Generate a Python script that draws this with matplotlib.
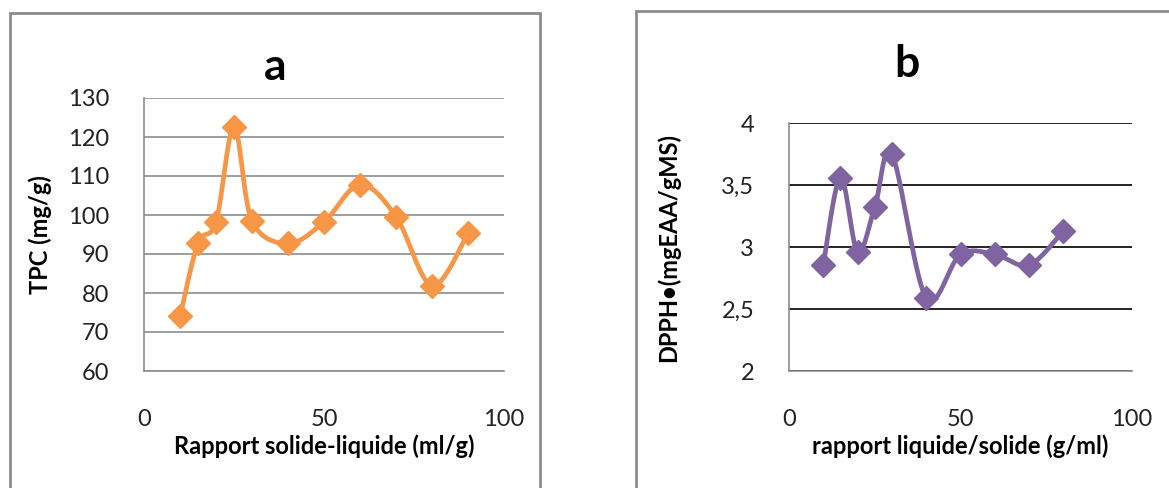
import numpy as np
import matplotlib.pyplot as plt
from matplotlib.patches import Rectangle

plt.rcParams['font.family'] = ['Lato', 'DejaVu Sans']

# panel a : total phenolic content
ratio_a = [10, 15, 20, 25, 30, 40, 50, 60, 70, 80, 90]
tpc = [74, 92.7, 98.2, 122.6, 98.5, 92.7, 98.2, 107.8, 99.6, 81.9, 95.3]

# panel b : DPPH radical scavenging
ratio_b = [10, 15, 20, 25, 30, 40, 50, 60, 70, 80]
dpph = [2.855, 3.56, 2.96, 3.32, 3.75, 2.59, 2.94, 2.94, 2.855, 3.13]

W, H = 1169, 488


def smooth(x, y, n=30):
    # Bezier smoothing through every point (Catmull-Rom style control points)
    p = np.column_stack([x, y]).astype(float)
    p_ext = np.vstack([p[0], p, p[-1]])
    out = []
    t = np.linspace(0, 1, n)[:, None]
    for i in range(len(p) - 1):
        p0, p1, p2, p3 = p_ext[i], p_ext[i + 1], p_ext[i + 2], p_ext[i + 3]
        c1 = p1 + (p2 - p0) / 6
        c2 = p2 - (p3 - p1) / 6
        seg = ((1 - t) ** 3) * p1 + 3 * ((1 - t) ** 2) * t * c1 + 3 * (1 - t) * t ** 2 * c2 + t ** 3 * p2
        out.append(seg if i == 0 else seg[1:])
    out = np.vstack(out)
    return out[:, 0], out[:, 1]


def style_axes(ax, grid_color):
    ax.set_xlim(0, 100)
    ax.set_xticks([0, 50, 100])
    ax.grid(axis='y', color=grid_color, linewidth=1.2)
    ax.set_axisbelow(True)
    for side in ['top', 'right']:
        ax.spines[side].set_visible(False)
    for side in ['left', 'bottom']:
        ax.spines[side].set_color('#8c8c8c')
        ax.spines[side].set_linewidth(1.2)
    ax.tick_params(length=0, labelsize=17, colors='#222222')
    ax.tick_params(axis='y', pad=25)
    ax.tick_params(axis='x', pad=27)


fig = plt.figure(figsize=(W / 100, H / 100), dpi=100)

# outer frames of both panels
fig.patches.append(Rectangle((10 / W, -0.1), 530 / W, 1.1 - 13 / H, transform=fig.transFigure,
                             fill=False, edgecolor='#8c8c8c', linewidth=2))
fig.patches.append(Rectangle((636 / W, -0.1), 0.6, 1.1 - 11 / H, transform=fig.transFigure,
                             fill=False, edgecolor='#8c8c8c', linewidth=2))

orange = '#F79646'
purple = '#8064A2'
label_size = 17

ax1 = fig.add_axes([144 / W, 117 / H, 360 / W, 273 / H])
sx, sy = smooth(ratio_a, tpc)
ax1.plot(sx, sy, color=orange, linewidth=3.4, solid_capstyle='round', zorder=3)
ax1.plot(ratio_a, tpc, linestyle='none', marker='D', markersize=12, color=orange, zorder=4)
ax1.set_ylim(60, 130)
ax1.set_yticks(np.arange(60, 131, 10))
style_axes(ax1, '#8c8c8c')
ax1.set_ylabel('TPC (mg/g)', fontsize=label_size, fontweight='bold')
ax1.yaxis.set_label_coords(-0.256, 0.5)
ax1.set_xlabel('Rapport solide-liquide (ml/g)', fontsize=label_size, fontweight='bold')
ax1.xaxis.label.set_va('center')
ax1.xaxis.set_label_coords(0.5, -0.275)

ax2 = fig.add_axes([789 / W, 117 / H, 343 / W, 248 / H])
sx, sy = smooth(ratio_b, dpph)
ax2.plot(sx, sy, color=purple, linewidth=3.4, solid_capstyle='round', zorder=3)
ax2.plot(ratio_b, dpph, linestyle='none', marker='D', markersize=12, color=purple, zorder=4)
ax2.set_ylim(2, 4)
ax2.set_yticks([2, 2.5, 3, 3.5, 4])
ax2.set_yticklabels(['2', '2,5', '3', '3,5', '4'])
style_axes(ax2, '#000000')
ax2.set_ylabel('DPPH•(mgEAA/gMS)', fontsize=label_size, fontweight='bold')
ax2.yaxis.set_label_coords(-0.318, 0.5)
ax2.set_xlabel('rapport liquide/solide (g/ml)', fontsize=label_size, fontweight='bold')
ax2.xaxis.label.set_va('center')
ax2.xaxis.set_label_coords(0.5, -0.302)

fig.text(275 / W, 1 - 80 / H, 'a', fontsize=32, fontweight='bold', ha='center', va='baseline')
fig.text(907 / W, 1 - 77 / H, 'b', fontsize=32, fontweight='bold', ha='center', va='baseline')

fig.savefig('out.png', dpi=100)
